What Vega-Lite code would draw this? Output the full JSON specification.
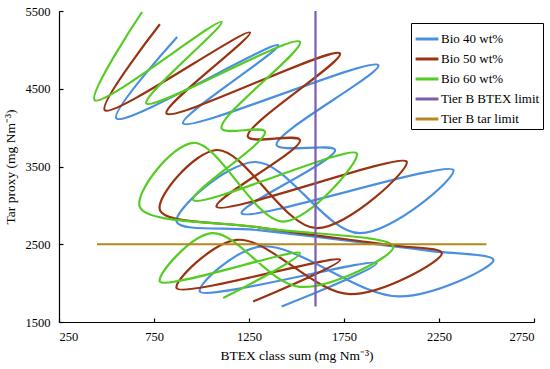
{
  "$schema": "https://vega.github.io/schema/vega-lite/v6.json",
  "width": 475,
  "height": 311,
  "autosize": {"type": "none"},
  "padding": {"left": 59, "top": 11, "right": 16, "bottom": 47},
  "background": "white",
  "config": {
    "view": {"stroke": null},
    "font": "'Liberation Serif', 'Times New Roman', serif",
    "axis": {"grid": false, "domainColor": "black", "tickColor": "black", "labelColor": "black", "titleColor": "black", "labelFont": "'Liberation Serif', 'Times New Roman', serif", "titleFont": "'Liberation Serif', 'Times New Roman', serif", "labelFontSize": 12.5, "titleFontSize": 13.5, "titleFontWeight": "normal", "domainWidth": 1.2, "tickWidth": 1.2},
    "legend": {"labelFont": "'Liberation Serif', 'Times New Roman', serif"}
  },
  "data": {
    "values": [
      {"series": "Bio 40 wt%", "i": 1, "x": 872, "y": 5166},
      {"series": "Bio 40 wt%", "i": 2, "x": 552, "y": 4119},
      {"series": "Bio 40 wt%", "i": 3, "x": 1404, "y": 5060},
      {"series": "Bio 40 wt%", "i": 4, "x": 903, "y": 4055},
      {"series": "Bio 40 wt%", "i": 5, "x": 1931, "y": 4803},
      {"series": "Bio 40 wt%", "i": 6, "x": 1395, "y": 3776},
      {"series": "Bio 40 wt%", "i": 7, "x": 1703, "y": 3712},
      {"series": "Bio 40 wt%", "i": 8, "x": 1211, "y": 2899},
      {"series": "Bio 40 wt%", "i": 9, "x": 2326, "y": 3455},
      {"series": "Bio 40 wt%", "i": 10, "x": 1834, "y": 2642},
      {"series": "Bio 40 wt%", "i": 11, "x": 1281, "y": 3558},
      {"series": "Bio 40 wt%", "i": 12, "x": 869, "y": 2791},
      {"series": "Bio 40 wt%", "i": 13, "x": 1300, "y": 2681},
      {"series": "Bio 40 wt%", "i": 14, "x": 1990, "y": 2480},
      {"series": "Bio 40 wt%", "i": 15, "x": 2200, "y": 2415},
      {"series": "Bio 40 wt%", "i": 16, "x": 2537, "y": 2300},
      {"series": "Bio 40 wt%", "i": 17, "x": 2045, "y": 1829},
      {"series": "Bio 40 wt%", "i": 18, "x": 1307, "y": 2470},
      {"series": "Bio 40 wt%", "i": 19, "x": 991, "y": 1893},
      {"series": "Bio 40 wt%", "i": 20, "x": 1922, "y": 2257},
      {"series": "Bio 40 wt%", "i": 21, "x": 1422, "y": 1700},
      {"series": "Bio 50 wt%", "i": 1, "x": 781, "y": 5329},
      {"series": "Bio 50 wt%", "i": 2, "x": 491, "y": 4225},
      {"series": "Bio 50 wt%", "i": 3, "x": 1255, "y": 5223},
      {"series": "Bio 50 wt%", "i": 4, "x": 816, "y": 4183},
      {"series": "Bio 50 wt%", "i": 5, "x": 1729, "y": 4953},
      {"series": "Bio 50 wt%", "i": 6, "x": 1244, "y": 3883},
      {"series": "Bio 50 wt%", "i": 7, "x": 1518, "y": 3840},
      {"series": "Bio 50 wt%", "i": 8, "x": 1079, "y": 2984},
      {"series": "Bio 50 wt%", "i": 9, "x": 2080, "y": 3562},
      {"series": "Bio 50 wt%", "i": 10, "x": 1606, "y": 2707},
      {"series": "Bio 50 wt%", "i": 11, "x": 1079, "y": 3712},
      {"series": "Bio 50 wt%", "i": 12, "x": 781, "y": 2942},
      {"series": "Bio 50 wt%", "i": 13, "x": 1300, "y": 2717},
      {"series": "Bio 50 wt%", "i": 14, "x": 1990, "y": 2490},
      {"series": "Bio 50 wt%", "i": 15, "x": 2265, "y": 2386},
      {"series": "Bio 50 wt%", "i": 16, "x": 1782, "y": 1859},
      {"series": "Bio 50 wt%", "i": 17, "x": 1185, "y": 2556},
      {"series": "Bio 50 wt%", "i": 18, "x": 869, "y": 1936},
      {"series": "Bio 50 wt%", "i": 19, "x": 1729, "y": 2300},
      {"series": "Bio 50 wt%", "i": 20, "x": 1272, "y": 1764},
      {"series": "Bio 60 wt%", "i": 1, "x": 687, "y": 5487},
      {"series": "Bio 60 wt%", "i": 2, "x": 438, "y": 4354},
      {"series": "Bio 60 wt%", "i": 3, "x": 1106, "y": 5359},
      {"series": "Bio 60 wt%", "i": 4, "x": 710, "y": 4311},
      {"series": "Bio 60 wt%", "i": 5, "x": 1518, "y": 5102},
      {"series": "Bio 60 wt%", "i": 6, "x": 1106, "y": 3990},
      {"series": "Bio 60 wt%", "i": 7, "x": 1334, "y": 3947},
      {"series": "Bio 60 wt%", "i": 8, "x": 956, "y": 3070},
      {"series": "Bio 60 wt%", "i": 9, "x": 1817, "y": 3669},
      {"series": "Bio 60 wt%", "i": 10, "x": 1430, "y": 2791},
      {"series": "Bio 60 wt%", "i": 11, "x": 956, "y": 3805},
      {"series": "Bio 60 wt%", "i": 12, "x": 675, "y": 2984},
      {"series": "Bio 60 wt%", "i": 13, "x": 1300, "y": 2717},
      {"series": "Bio 60 wt%", "i": 14, "x": 2010, "y": 2470},
      {"series": "Bio 60 wt%", "i": 15, "x": 1518, "y": 1953},
      {"series": "Bio 60 wt%", "i": 16, "x": 1053, "y": 2642},
      {"series": "Bio 60 wt%", "i": 17, "x": 781, "y": 2021},
      {"series": "Bio 60 wt%", "i": 18, "x": 1518, "y": 2386},
      {"series": "Bio 60 wt%", "i": 19, "x": 1114, "y": 1808},
      {"series": "Tier B BTEX limit", "i": 1, "x": 1600, "y": 1700},
      {"series": "Tier B BTEX limit", "i": 2, "x": 1600, "y": 5500},
      {"series": "Tier B tar limit", "i": 1, "x": 450, "y": 2500},
      {"series": "Tier B tar limit", "i": 2, "x": 2500, "y": 2500}
    ]
  },
  "mark": {"type": "line", "interpolate": "catmull-rom", "strokeWidth": 2.2, "clip": true},
  "encoding": {
    "x": {"field": "x", "type": "quantitative", "title": "BTEX class sum (mg Nm⁻³)",
      "scale": {"domain": [250, 2750], "nice": false, "zero": false},
      "axis": {"values": [250, 750, 1250, 1750, 2250, 2750], "format": "d", "tickSize": -4, "labelPadding": 12, "titlePadding": 6}},
    "y": {"field": "y", "type": "quantitative", "title": "Tar proxy (mg Nm⁻³)",
      "scale": {"domain": [1500, 5500], "nice": false, "zero": false},
      "axis": {"values": [1500, 2500, 3500, 4500, 5500], "format": "d", "tickSize": -4, "labelPadding": 13, "titlePadding": 8}},
    "order": {"field": "i", "type": "quantitative"},
    "color": {"field": "series", "type": "nominal",
      "scale": {"domain": ["Bio 40 wt%", "Bio 50 wt%", "Bio 60 wt%", "Tier B BTEX limit", "Tier B tar limit"],
        "range": ["#4a8fe0", "#993311", "#55cc22", "#7a5ca8", "#b5891a"]},
      "legend": {"orient": "none", "legendX": 352, "legendY": 12, "title": null, "strokeColor": "black", "fillColor": "white", "padding": 3, "symbolType": "stroke", "symbolSize": 520, "symbolStrokeWidth": 3, "labelFont": "'Liberation Serif', 'Times New Roman', serif", "labelFontSize": 13, "labelColor": "black", "rowPadding": -1, "labelOffset": 1}}
  }
}
